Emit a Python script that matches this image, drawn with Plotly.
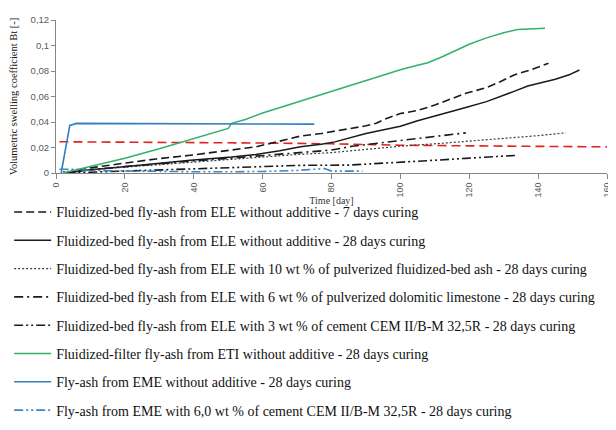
import plotly.graph_objects as go

# ---- data ----
ele7_days = [3, 10, 19, 29, 39, 50, 58, 65, 71, 77, 81, 86, 90, 93, 96, 100, 105, 110, 119, 125, 129, 133, 138, 143]
ele7_vals = [0, 0.004, 0.0074, 0.011, 0.0139, 0.018, 0.0205, 0.025, 0.029, 0.031, 0.0328, 0.035, 0.037, 0.039, 0.0428, 0.0467, 0.049, 0.0533, 0.0625, 0.067, 0.0716, 0.0769, 0.081, 0.0861]

ele28_days = [3, 10, 19, 29, 39, 51, 58, 65, 71, 77, 81, 90, 95, 100, 105, 110, 115, 119, 125, 129, 133, 137, 141, 145, 149, 152]
ele28_vals = [0, 0.0025, 0.0047, 0.0075, 0.01, 0.0125, 0.0145, 0.0175, 0.0205, 0.0226, 0.0244, 0.031, 0.034, 0.0367, 0.041, 0.0446, 0.048, 0.0514, 0.056, 0.0598, 0.064, 0.0682, 0.071, 0.0735, 0.077, 0.0808]

ash10_days = [2, 10, 20, 30, 40, 50, 60, 70, 80, 90, 100, 111, 120, 130, 140, 148]
ash10_vals = [0.001, 0.0025, 0.0045, 0.0065, 0.0085, 0.0105, 0.0125, 0.0145, 0.016, 0.0185, 0.021, 0.0231, 0.025, 0.027, 0.0293, 0.0315]

dol6_days = [3, 10, 20, 30, 40, 50, 60, 70, 80, 86, 92, 100, 105, 110, 115, 119]
dol6_vals = [0, 0.0025, 0.005, 0.0075, 0.0095, 0.0115, 0.0135, 0.0158, 0.018, 0.021, 0.0228, 0.0252, 0.027, 0.0285, 0.030, 0.0315]

cem3_days = [3, 20, 40, 60, 71, 85, 100, 110, 119, 129, 134]
cem3_vals = [0, 0.0015, 0.003, 0.0045, 0.006, 0.0062, 0.0082, 0.01, 0.0115, 0.0131, 0.0139]

eti_days = [2, 10, 20, 30, 40, 50, 51, 55, 60, 70, 80, 90, 100, 105, 108, 112, 116, 120, 125, 130, 134, 138, 142]
eti_vals = [0, 0.005, 0.0115, 0.019, 0.027, 0.035, 0.039, 0.042, 0.047, 0.0555, 0.064, 0.073, 0.081, 0.0845, 0.0865, 0.091, 0.096, 0.101, 0.106, 0.11, 0.1125, 0.1133, 0.1136]

eme_days = [1.5, 4, 6, 20, 40, 55, 60, 75]
eme_vals = [0, 0.0373, 0.0389, 0.0389, 0.0389, 0.0389, 0.0384, 0.0383]

eme6_days = [1, 5, 10, 20, 30, 40, 50, 60, 70, 75, 78, 80, 85, 89]
eme6_vals = [0.003, 0.003, 0.002, 0.0015, 0.001, 0.001, 0.001, 0.0012, 0.002, 0.003, 0.0035, 0.0015, 0.0015, 0.0015]

red_days = [1, 20, 40, 60, 80, 100, 120, 140, 160]
red_vals = [0.0245, 0.0243, 0.024, 0.0235, 0.0229, 0.0218, 0.0213, 0.0209, 0.0205]

names = [
    "Fluidized-bed fly-ash from ELE without additive - 7 days curing",
    "Fluidized-bed fly-ash from ELE without additive - 28 days curing",
    "Fluidized-bed fly-ash from ELE with 10 wt % of pulverized fluidized-bed ash - 28 days curing",
    "Fluidized-bed fly-ash from ELE with 6 wt % of pulverized dolomitic limestone - 28 days curing",
    "Fluidized-bed fly-ash from ELE with 3 wt % of cement CEM II/B-M 32,5R - 28 days curing",
    "Fluidized-filter fly-ash from ETI without additive - 28 days curing",
    "Fly-ash from EME without additive - 28 days curing",
    "Fly-ash from EME with 6,0 wt % of cement CEM II/B-M 32,5R - 28 days curing",
]

y_ticks = [0, 0.02, 0.04, 0.06, 0.08, 0.1, 0.12]
y_ticktext = ["0", "0,02", "0,04", "0,06", "0,08", "0,1", "0,12"]
x_ticks = [0, 20, 40, 60, 80, 100, 120, 140, 160]

series = [
    (ele7_days, ele7_vals, "#1a1a1a", "8px,4px", 1.6),
    (ele28_days, ele28_vals, "#1a1a1a", "solid", 1.5),
    (ash10_days, ash10_vals, "#3a3a3a", "2px,2px", 1.2),
    (dol6_days, dol6_vals, "#1a1a1a", "9px,4px,2px,4px", 1.6),
    (cem3_days, cem3_vals, "#1a1a1a", "9px,3px,2px,3px,2px,3px", 1.6),
    (eti_days, eti_vals, "#33b06a", "solid", 1.5),
    (eme_days, eme_vals, "#2f7fc1", "solid", 1.6),
    (eme6_days, eme6_vals, "#3f86c4", "9px,3px,2px,3px,2px,3px", 1.6),
]

fig = go.Figure()
fig.add_trace(go.Scatter(x=red_days, y=red_vals, mode="lines", showlegend=False,
                         line=dict(color="#e0231e", dash="9px,5px", width=1.6)))
for i, (d, v, c, dash, w) in enumerate(series):
    fig.add_trace(go.Scatter(x=d, y=v, mode="lines", name=names[i], legendgroup="g%d" % i,
                             line=dict(color=c, dash=dash, width=w)))

axis_col = "#868686"
fig.update_layout(
    width=608, height=422,
    margin=dict(l=48, r=9, t=12, b=257, autoexpand=False),
    paper_bgcolor="white", plot_bgcolor="white",
    showlegend=True,
    legend=dict(x=-0.085, xanchor="left", y=-0.153, yanchor="top",
                font=dict(family="Liberation Serif", size=14, color="#111111"),
                tracegroupgap=7.1, itemwidth=37, maxheight=400,
                bgcolor="rgba(0,0,0,0)"),
    xaxis=dict(range=[0, 160], tickvals=x_ticks, tickangle=-90, automargin=False,
               showline=True, linecolor=axis_col, linewidth=1, showgrid=False, zeroline=False,
               ticks="outside", ticklen=5, tickcolor=axis_col,
               tickfont=dict(family="Liberation Sans", size=9, color="#595959"),
               title=dict(text="Time [day]", standoff=0,
                          font=dict(family="Liberation Serif", size=10, color="#333333"))),
    yaxis=dict(range=[0, 0.12], tickvals=y_ticks, ticktext=y_ticktext, automargin=False,
               showline=True, linecolor=axis_col, linewidth=1, showgrid=False, zeroline=False,
               ticks="outside", ticklen=4, tickcolor=axis_col,
               tickfont=dict(family="Liberation Sans", size=9.5, color="#595959"),
               title=dict(text="Volumetric swelling coefficient Bt [-]", standoff=10,
                          font=dict(family="Liberation Serif", size=10.5, color="#111111"))),
)

fig.write_html("out.html")
